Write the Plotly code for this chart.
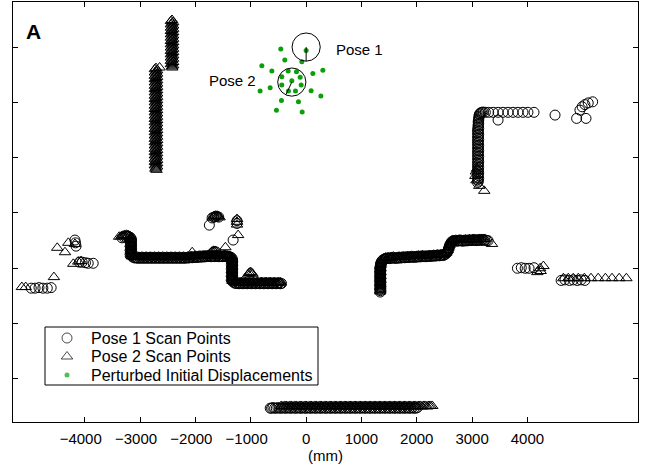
import math
import plotly.graph_objects as go

# ---------------- data (mm) ----------------
# Pose 1 scan points (circles)
p1_bottom = [(-650, -6530), (-625, -6530), (-600, -6520), (-570, -6530), (-540, -6530), (-510, -6520), (-480, -6530),
             (-450, -6530), (-420, -6520), (-390, -6530), (-360, -6530), (-330, -6520), (-300, -6530), (-270, -6530),
             (-240, -6520), (-210, -6530), (-180, -6530), (-150, -6520), (-120, -6530), (-90, -6530), (-60, -6520),
             (-30, -6530), (0, -6530), (30, -6520), (60, -6530), (90, -6530), (120, -6520), (150, -6530),
             (180, -6530), (210, -6520), (240, -6530), (270, -6530), (300, -6520), (330, -6530), (360, -6530),
             (390, -6520), (420, -6530), (450, -6530), (480, -6520), (510, -6530), (540, -6530), (570, -6520),
             (600, -6530), (630, -6530), (660, -6520), (690, -6530), (720, -6530), (750, -6520), (780, -6530),
             (810, -6530), (840, -6520), (870, -6530), (900, -6530), (930, -6520), (960, -6530), (990, -6530),
             (1020, -6520), (1050, -6530), (1080, -6530), (1110, -6520), (1140, -6530), (1170, -6530), (1200, -6520),
             (1230, -6530), (1260, -6530), (1290, -6520), (1320, -6530), (1350, -6530), (1380, -6520), (1410, -6530),
             (1440, -6530), (1470, -6520), (1500, -6530), (1530, -6530), (1560, -6520), (1590, -6530), (1620, -6530),
             (1650, -6520), (1680, -6530), (1710, -6530), (1740, -6520), (1770, -6530), (1800, -6530), (1830, -6520),
             (1860, -6530), (1890, -6530), (1920, -6520), (1950, -6530), (1980, -6530), (2010, -6520)]

p1_left = [(-4970, -4360), (-4900, -4360), (-4830, -4350), (-4760, -4360), (-4680, -4360), (-4610, -4350),
           (-4100, -3890), (-4050, -3890), (-3990, -3900), (-3940, -3910), (-3850, -3910),
           (-4180, -3490), (-4170, -3540), (-4160, -3600)]

p1_mid_left = [(-3330, -3450), (-3300, -3435), (-3270, -3425), (-3240, -3420), (-3210, -3425), (-3180, -3440),
               (-3160, -3470), (-3160, -3500), (-3165, -3530), (-3160, -3560), (-3160, -3590), (-3165, -3620),
               (-3160, -3650), (-3160, -3680), (-3165, -3710), (-3160, -3740), (-3155, -3770), (-3140, -3795),
               (-3110, -3810), (-3085, -3815), (-3060, -3810), (-3035, -3820), (-3010, -3815), (-2985, -3810),
               (-2960, -3820), (-2935, -3815), (-2910, -3810), (-2885, -3820), (-2860, -3815), (-2835, -3810),
               (-2810, -3820), (-2785, -3815), (-2760, -3810), (-2735, -3820), (-2710, -3815), (-2685, -3810),
               (-2660, -3820), (-2635, -3815), (-2610, -3810), (-2585, -3820), (-2560, -3815), (-2535, -3810),
               (-2510, -3820), (-2485, -3815), (-2460, -3810), (-2435, -3820), (-2410, -3815), (-2385, -3810),
               (-2360, -3820), (-2335, -3815), (-2310, -3810), (-2285, -3820), (-2260, -3815), (-2235, -3810),
               (-2210, -3820), (-2185, -3815), (-2160, -3810), (-2135, -3815), (-2110, -3810), (-2085, -3805),
               (-2060, -3810), (-2035, -3805), (-2010, -3800), (-1985, -3805), (-1960, -3800), (-1935, -3795),
               (-1910, -3800), (-1885, -3795), (-1860, -3790), (-1835, -3795), (-1810, -3790), (-1785, -3785),
               (-1760, -3780), (-1735, -3790), (-1710, -3790), (-1685, -3785), (-1660, -3790), (-1635, -3785),
               (-1610, -3780), (-1585, -3790), (-1560, -3790), (-1535, -3785), (-1510, -3790), (-1485, -3785),
               (-1460, -3780), (-1435, -3790), (-1410, -3790), (-1385, -3795), (-1360, -3800), (-1340, -3820),
               (-1330, -3850), (-1330, -3875), (-1335, -3900), (-1330, -3925), (-1330, -3950), (-1335, -3975),
               (-1330, -4000), (-1330, -4025), (-1335, -4050), (-1330, -4075), (-1330, -4100), (-1335, -4125),
               (-1330, -4150), (-1330, -4175), (-1335, -4200), (-1330, -4225), (-1320, -4250),
               (-1290, -4270), (-1265, -4275), (-1240, -4270), (-1215, -4280), (-1190, -4275), (-1165, -4270),
               (-1140, -4280), (-1115, -4275), (-1090, -4270), (-1065, -4280), (-1040, -4275), (-1015, -4270),
               (-990, -4280), (-965, -4275), (-940, -4270), (-915, -4280), (-890, -4275), (-865, -4270),
               (-840, -4280), (-815, -4275), (-790, -4270), (-765, -4280), (-740, -4275), (-715, -4270),
               (-690, -4280), (-665, -4275), (-640, -4270), (-615, -4280), (-590, -4275), (-565, -4270),
               (-540, -4280), (-515, -4275), (-490, -4270), (-465, -4280), (-445, -4275),
               (-1700, -3090), (-1670, -3075), (-1640, -3065), (-1610, -3065), (-1580, -3075), (-1750, -3220),
               (-1250, -3140), (-1250, -3190), (-1320, -3490), (-1690, -3720), (-1660, -3700), (-1630, -3705)]

p1_right_mid = [(1340, -4430), (1340, -4405), (1335, -4380), (1340, -4355), (1340, -4330), (1335, -4305),
                (1340, -4280), (1340, -4255), (1335, -4230), (1340, -4205), (1340, -4180), (1335, -4155),
                (1340, -4130), (1340, -4105), (1335, -4080), (1340, -4055), (1340, -4030), (1335, -4005),
                (1340, -3980), (1340, -3955), (1345, -3930), (1350, -3905), (1360, -3880), (1380, -3855),
                (1405, -3835), (1430, -3825), (1455, -3820),
                (1480, -3820), (1505, -3825), (1530, -3820), (1555, -3815), (1580, -3810), (1605, -3820),
                (1630, -3820), (1655, -3815), (1680, -3810), (1705, -3815), (1730, -3810), (1755, -3805),
                (1780, -3810), (1805, -3805), (1830, -3800), (1855, -3805), (1880, -3800), (1905, -3795),
                (1930, -3800), (1955, -3800), (1980, -3800), (2005, -3795), (2030, -3790), (2055, -3795),
                (2080, -3790), (2105, -3785), (2130, -3790), (2155, -3790), (2180, -3790), (2205, -3785),
                (2230, -3780), (2255, -3785), (2280, -3780), (2305, -3775), (2330, -3780), (2355, -3775),
                (2380, -3770), (2405, -3775), (2430, -3770), (2455, -3765), (2480, -3770), (2505, -3755),
                (2530, -3740), (2545, -3715), (2560, -3690), (2570, -3660), (2580, -3630), (2590, -3600),
                (2600, -3570), (2615, -3545), (2630, -3520), (2655, -3510),
                (2680, -3510), (2705, -3505), (2730, -3510), (2755, -3505), (2780, -3500), (2805, -3505),
                (2830, -3510), (2855, -3505), (2880, -3500), (2905, -3505), (2930, -3500), (2955, -3495),
                (2980, -3500), (3005, -3495), (3030, -3490), (3055, -3495), (3080, -3500), (3105, -3495),
                (3130, -3490), (3155, -3495), (3180, -3490), (3205, -3495), (3230, -3490), (3260, -3495),
                (3290, -3500)]

p1_right = [(3820, -4000), (3890, -3990), (3960, -4000), (4030, -4000), (4120, -3990),
            (4610, -4220), (4680, -4210), (4760, -4220), (4830, -4210), (4900, -4220), (4970, -4210), (5040, -4220)]

p1_top_right = [(3100, -2450), (3115, -2425), (3100, -2400), (3120, -2375), (3100, -2350), (3115, -2325),
                (3100, -2300), (3120, -2275), (3100, -2250), (3115, -2225), (3100, -2200), (3120, -2175),
                (3100, -2150), (3115, -2125), (3100, -2100), (3120, -2075), (3100, -2050), (3115, -2025),
                (3100, -2000), (3120, -1975), (3100, -1950), (3115, -1925), (3100, -1900), (3120, -1875),
                (3100, -1850), (3115, -1825), (3100, -1800), (3120, -1775), (3100, -1750), (3115, -1725),
                (3100, -1700), (3120, -1675), (3100, -1650), (3115, -1625), (3100, -1600), (3120, -1575),
                (3100, -1550), (3115, -1525), (3100, -1500), (3120, -1475), (3105, -1450), (3115, -1425),
                (3110, -1400), (3120, -1375), (3110, -1350), (3120, -1325), (3120, -1300), (3125, -1275),
                (3125, -1250), (3130, -1225), (3140, -1205), (3155, -1190), (3175, -1180), (3200, -1175),
                (3240, -1180), (3300, -1180), (3380, -1180), (3470, -1180), (3560, -1180), (3650, -1180),
                (3740, -1180), (3830, -1180), (3920, -1180), (4010, -1180), (4120, -1180),
                (3470, -1320), (4500, -1230), (4890, -1290), (5060, -1290), (4950, -1140), (4990, -1080),
                (5040, -1040), (5100, -1010), (5180, -990)]

# Pose 2 scan points (triangles)
p2_bottom = [(-450, -6490), (-420, -6500), (-390, -6490), (-360, -6490), (-330, -6500), (-300, -6490),
             (-270, -6490), (-240, -6500), (-210, -6490), (-180, -6490), (-150, -6500), (-120, -6490),
             (-90, -6490), (-60, -6500), (-30, -6490), (0, -6490), (30, -6500), (60, -6490),
             (90, -6490), (120, -6500), (150, -6490), (180, -6490), (210, -6500), (240, -6490),
             (270, -6490), (300, -6500), (330, -6490), (360, -6490), (390, -6500), (420, -6490),
             (450, -6490), (480, -6500), (510, -6490), (540, -6490), (570, -6500), (600, -6490),
             (630, -6490), (660, -6500), (690, -6490), (720, -6490), (750, -6500), (780, -6490),
             (810, -6490), (840, -6500), (870, -6490), (900, -6490), (930, -6500), (960, -6490),
             (990, -6490), (1020, -6500), (1050, -6490), (1080, -6490), (1110, -6500), (1140, -6490),
             (1170, -6490), (1200, -6500), (1230, -6490), (1260, -6490), (1290, -6500), (1320, -6490),
             (1350, -6490), (1380, -6500), (1410, -6490), (1440, -6490), (1470, -6500), (1500, -6490),
             (1530, -6490), (1560, -6500), (1590, -6490), (1620, -6490), (1650, -6500), (1680, -6490),
             (1710, -6490), (1740, -6500), (1770, -6490), (1800, -6490), (1830, -6500), (1860, -6490),
             (1890, -6490), (1920, -6500), (1950, -6490), (1980, -6490), (2010, -6500), (2040, -6490),
             (2070, -6490), (2100, -6500), (2130, -6490), (2160, -6490), (2190, -6500), (2220, -6490),
             (2250, -6490), (2280, -6490)]

p2_left = [(-5140, -4340), (-5070, -4340), (-4560, -4160),
           (-4210, -3920), (-4120, -3880), (-4070, -3870),
           (-4500, -3630), (-4360, -3710), (-4300, -3540), (-4180, -3560)]

p2_lower_wall = [(-2715, -380), (-2735, -400), (-2695, -420), (-2715, -440), (-2735, -460), (-2695, -480),
                 (-2715, -500), (-2735, -520), (-2695, -540), (-2715, -560), (-2735, -580), (-2695, -600),
                 (-2715, -620), (-2735, -640), (-2695, -660), (-2715, -680), (-2735, -700), (-2695, -720),
                 (-2715, -740), (-2735, -760), (-2695, -780), (-2715, -800), (-2735, -820), (-2695, -840),
                 (-2715, -860), (-2735, -880), (-2695, -900), (-2715, -920), (-2735, -940), (-2695, -960),
                 (-2715, -980), (-2735, -1000), (-2695, -1020), (-2715, -1040), (-2735, -1060), (-2695, -1080),
                 (-2715, -1100), (-2735, -1120), (-2695, -1140), (-2715, -1160), (-2735, -1180), (-2695, -1200),
                 (-2715, -1220), (-2735, -1240), (-2695, -1260), (-2715, -1280), (-2735, -1300), (-2695, -1320),
                 (-2715, -1340), (-2735, -1360), (-2695, -1380), (-2715, -1400), (-2735, -1420), (-2695, -1440),
                 (-2715, -1460), (-2735, -1480), (-2695, -1500), (-2715, -1520), (-2735, -1540), (-2695, -1560),
                 (-2715, -1580), (-2735, -1600), (-2695, -1620), (-2715, -1640), (-2735, -1660), (-2695, -1680),
                 (-2715, -1700), (-2735, -1720), (-2695, -1740), (-2715, -1760), (-2735, -1780), (-2695, -1800),
                 (-2715, -1820), (-2735, -1840), (-2695, -1860), (-2715, -1880), (-2735, -1900), (-2695, -1920),
                 (-2715, -1940), (-2735, -1960), (-2695, -1980), (-2715, -2000), (-2735, -2020), (-2695, -2040),
                 (-2715, -2060), (-2735, -2080), (-2695, -2100), (-2715, -2120), (-2735, -2140), (-2695, -2160),
                 (-2715, -2180), (-2725, -2200), (-2705, -2220), (-2650, -370)]

p2_upper_wall = [(-2425, 490), (-2445, 470), (-2405, 450), (-2425, 430), (-2445, 410), (-2405, 390),
                 (-2425, 370), (-2445, 350), (-2405, 330), (-2425, 310), (-2445, 290), (-2405, 270),
                 (-2425, 250), (-2445, 230), (-2405, 210), (-2425, 190), (-2445, 170), (-2405, 150),
                 (-2425, 130), (-2445, 110), (-2405, 90), (-2425, 70), (-2445, 50), (-2405, 30),
                 (-2425, 10), (-2445, -10), (-2405, -30), (-2425, -50), (-2445, -70), (-2405, -90),
                 (-2425, -110), (-2445, -130), (-2405, -150), (-2425, -170), (-2445, -190), (-2405, -210),
                 (-2425, -230), (-2445, -250), (-2405, -270), (-2425, -290), (-2445, -310), (-2405, -330),
                 (-2425, -350), (-2420, -370)]

p2_mid_left = [(-3380, -3430), (-3340, -3420), (-3310, -3410), (-3280, -3400), (-3250, -3395), (-3220, -3400),
               (-3190, -3415), (-3170, -3440), (-3170, -3465), (-3175, -3490), (-3170, -3515), (-3170, -3540),
               (-3175, -3565), (-3170, -3590), (-3170, -3615), (-3175, -3640), (-3170, -3665), (-3170, -3690),
               (-3175, -3715), (-3170, -3740), (-3165, -3765), (-3150, -3785),
               (-3120, -3790), (-3095, -3795), (-3070, -3800), (-3045, -3790), (-3020, -3795), (-2995, -3800),
               (-2970, -3790), (-2945, -3795), (-2920, -3800), (-2895, -3790), (-2870, -3795), (-2845, -3800),
               (-2820, -3790), (-2795, -3795), (-2770, -3800), (-2745, -3790), (-2720, -3795), (-2695, -3800),
               (-2670, -3790), (-2645, -3795), (-2620, -3800), (-2595, -3790), (-2570, -3795), (-2545, -3800),
               (-2520, -3790), (-2495, -3795), (-2470, -3800), (-2445, -3790), (-2420, -3795), (-2395, -3800),
               (-2370, -3790), (-2345, -3795), (-2320, -3800), (-2295, -3790), (-2270, -3795), (-2245, -3800),
               (-2220, -3790), (-2195, -3795), (-2170, -3800), (-2145, -3790), (-2120, -3790), (-2095, -3785),
               (-2070, -3780), (-2045, -3785), (-2020, -3780), (-1995, -3775), (-1970, -3780), (-1945, -3775),
               (-1920, -3770), (-1895, -3775), (-1870, -3770), (-1845, -3765), (-1820, -3770), (-1795, -3765),
               (-1770, -3760), (-1745, -3770), (-1720, -3770), (-1695, -3765), (-1670, -3760), (-1645, -3765),
               (-1620, -3760), (-1595, -3770), (-1570, -3770), (-1545, -3765), (-1520, -3770), (-1495, -3765),
               (-1470, -3760), (-1445, -3770), (-1420, -3770), (-1395, -3775), (-1370, -3780), (-1350, -3800),
               (-1340, -3830), (-1340, -3855), (-1345, -3880), (-1340, -3905), (-1340, -3930), (-1345, -3955),
               (-1340, -3980), (-1340, -4005), (-1345, -4030), (-1340, -4055), (-1340, -4080), (-1345, -4105),
               (-1340, -4130), (-1340, -4155), (-1345, -4180), (-1340, -4205), (-1330, -4230),
               (-1300, -4250), (-1275, -4255), (-1250, -4250), (-1225, -4260), (-1200, -4255), (-1175, -4250),
               (-1150, -4260), (-1125, -4255), (-1100, -4250), (-1075, -4260), (-1050, -4255), (-1025, -4250),
               (-1000, -4260), (-975, -4255), (-950, -4250), (-925, -4260), (-900, -4255), (-875, -4250),
               (-850, -4260), (-825, -4255), (-800, -4250), (-775, -4260), (-750, -4255), (-725, -4250),
               (-700, -4260), (-675, -4255), (-650, -4250), (-625, -4260), (-600, -4255), (-575, -4250),
               (-550, -4260), (-525, -4255), (-500, -4250), (-475, -4260), (-460, -4255),
               (-1050, -4110), (-1030, -4085), (-1010, -4070), (-990, -4080), (-970, -4100),
               (-1690, -3080), (-1665, -3060), (-1640, -3050), (-1610, -3050), (-1585, -3060), (-1565, -3080),
               (-1250, -3110), (-1250, -3160), (-1250, -3210), (-1230, -3400), (-1460, -3620),
               (-2060, -3710), (-1700, -3700), (-1670, -3685), (-1640, -3690)]

p2_right_mid = [(1340, -4420), (1340, -4395), (1345, -4370), (1340, -4345), (1340, -4320), (1345, -4295),
                (1340, -4270), (1340, -4245), (1345, -4220), (1340, -4195), (1340, -4170), (1345, -4145),
                (1340, -4120), (1340, -4095), (1345, -4070), (1340, -4045), (1340, -4020), (1345, -3995),
                (1340, -3970), (1345, -3945), (1350, -3920), (1355, -3895), (1365, -3865), (1385, -3840),
                (1410, -3820), (1440, -3805),
                (1480, -3800), (1505, -3805), (1530, -3800), (1555, -3795), (1580, -3790), (1605, -3800),
                (1630, -3800), (1655, -3795), (1680, -3790), (1705, -3795), (1730, -3790), (1755, -3785),
                (1780, -3790), (1805, -3785), (1830, -3780), (1855, -3785), (1880, -3780), (1905, -3775),
                (1930, -3780), (1955, -3780), (1980, -3780), (2005, -3775), (2030, -3770), (2055, -3775),
                (2080, -3770), (2105, -3765), (2130, -3770), (2155, -3770), (2180, -3770), (2205, -3765),
                (2230, -3760), (2255, -3765), (2280, -3760), (2305, -3755), (2330, -3760), (2355, -3755),
                (2380, -3750), (2405, -3755), (2430, -3750), (2455, -3745), (2480, -3750), (2505, -3735),
                (2530, -3720), (2545, -3695), (2560, -3670), (2570, -3640), (2580, -3610), (2590, -3580),
                (2600, -3550), (2615, -3525), (2630, -3500), (2655, -3490),
                (2680, -3490), (2705, -3485), (2730, -3490), (2755, -3485), (2780, -3480), (2805, -3485),
                (2830, -3490), (2855, -3485), (2880, -3480), (2905, -3485), (2930, -3480), (2955, -3475),
                (2980, -3480), (3005, -3475), (3030, -3470), (3055, -3475), (3080, -3480), (3105, -3475),
                (3130, -3470), (3155, -3475), (3180, -3470), (3205, -3475), (3230, -3470), (3360, -3560)]

p2_right = [(4180, -4070), (4230, -4000), (4290, -3960), (4240, -4050),
            (4650, -4180), (4740, -4180), (4830, -4180), (4920, -4180), (5030, -4180), (5150, -4180),
            (5280, -4180), (5410, -4180), (5530, -4180), (5660, -4180), (5790, -4180)]

p2_top_right = [(3090, -2200), (3070, -2250), (3060, -2330), (3080, -2410), (3130, -2510), (3220, -2600)]

# Perturbed initial displacements (green dots)
pert_x = [-458, -386, -78, -801, -620, -325, -175, 121, 302, -440, -108, -259, -440, -90,
          -832, -651, -320, -193, 90, 266, -446, -139, -537, -72, 0]
pert_y = [-36, -235, -265, -338, -434, -434, -446, -476, -421, -537, -548, -609, -687, -687,
          -796, -736, -796, -796, -790, -886, -964, -989, -1144, -1175, -60]

# Robot poses
pose_x = [0, -259]
pose_y = [0, -633]
pose_heading_deg = [-90, -115]
pose_labels = ["Pose 1", "Pose 2"]
robot_radius = 255

x_ticks = [-4000, -3000, -2000, -1000, 0, 1000, 2000, 3000, 4000]
x_ticktext = ["\u22124000\u2007", "\u22123000\u2007", "\u22122000\u2007", "\u22121000\u2007",
              "0", "1000", "2000", "3000", "4000"]
y_ticks = [0, -1000, -2000, -3000, -4000, -5000, -6000]

legend_names = ["Pose 1 Scan Points", "Pose 2 Scan Points", "Perturbed Initial Displacements"]

# ---------------- figure ----------------
W, H = 645, 468
ML, MR, MT, MB = 13, 7, 2, 46
PW, PH = W - ML - MR, H - MT - MB


def fx(px):  # pixel column -> paper fraction
    return (px - ML) / PW


def fy(py):  # pixel row -> paper fraction
    return (H - MB - py) / PH


p1 = p1_bottom + p1_left + p1_mid_left + p1_right_mid + p1_right + p1_top_right
p2 = p2_bottom + p2_left + p2_lower_wall + p2_upper_wall + p2_mid_left + p2_right_mid + p2_right + p2_top_right

FONT = "Liberation Sans, Arial, Helvetica, sans-serif"
GREEN = "#0aa00a"
circ = dict(symbol="circle-open", size=10, color="black", line=dict(width=1, color="black"))
tri = dict(symbol="triangle-up-open", size=10, color="black", line=dict(width=1, color="black"))

fig = go.Figure()
fig.add_trace(go.Scatter(x=[p[0] for p in p1], y=[p[1] for p in p1], mode="markers",
                         name=legend_names[0], marker=circ, showlegend=False))
fig.add_trace(go.Scatter(x=[p[0] for p in p2], y=[p[1] for p in p2], mode="markers",
                         name=legend_names[1], marker=tri, showlegend=False))
fig.add_trace(go.Scatter(x=pert_x, y=pert_y, mode="markers", name=legend_names[2],
                         marker=dict(symbol="circle", size=5, color=GREEN, line=dict(width=0)),
                         showlegend=False))

# legend key symbols (drawn on an overlay axis in paper fractions)
key_rows = [338, 356.5, 375]
fig.add_trace(go.Scatter(
    x=[fx(67)] * 3, y=[fy(r) for r in key_rows], xaxis="x2", yaxis="y2", mode="markers",
    showlegend=False, hoverinfo="skip",
    marker=dict(symbol=["circle-open", "triangle-up-open", "circle"], size=[10, 10, 5],
                color=["black", "black", GREEN], line=dict(width=[1, 1, 0], color=["black", "black", GREEN]))))

shapes = []
for px_, py_, hd in zip(pose_x, pose_y, pose_heading_deg):
    shapes.append(dict(type="circle", xref="x", yref="y",
                       x0=px_ - robot_radius, x1=px_ + robot_radius,
                       y0=py_ - robot_radius, y1=py_ + robot_radius,
                       line=dict(color="black", width=1), layer="above"))
    shapes.append(dict(type="line", xref="x", yref="y", x0=px_, y0=py_,
                       x1=px_ + robot_radius * math.cos(math.radians(hd)),
                       y1=py_ + robot_radius * math.sin(math.radians(hd)),
                       line=dict(color="black", width=1), layer="above"))
# legend box
shapes.append(dict(type="rect", xref="paper", yref="paper", x0=fx(45), x1=fx(318), y0=fy(385), y1=fy(327),
                   line=dict(color="black", width=1), fillcolor="white", layer="below"))

annotations = [
    dict(text="<b>A</b>", xref="paper", yref="paper", x=fx(24), y=fy(32), xanchor="left", yanchor="middle",
         showarrow=False, font=dict(size=21, color="black", family=FONT)),
    dict(text=pose_labels[0], xref="x", yref="y", x=pose_x[0] + 500, y=pose_y[0] - 50,
         xanchor="left", yanchor="middle", showarrow=False, font=dict(size=15, color="black", family=FONT)),
    dict(text=pose_labels[1], xref="x", yref="y", x=pose_x[1] - 620, y=pose_y[1] + 30,
         xanchor="right", yanchor="middle", showarrow=False, font=dict(size=15, color="black", family=FONT)),
]
for name, r in zip(legend_names, key_rows):
    annotations.append(dict(text=name, xref="paper", yref="paper", x=fx(89), y=fy(r),
                            xanchor="left", yanchor="middle", showarrow=False,
                            font=dict(size=16, color="black", family=FONT)))

fig.update_layout(
    width=W, height=H,
    margin=dict(l=ML, r=MR, t=MT, b=MB),
    paper_bgcolor="white", plot_bgcolor="white",
    font=dict(family=FONT, size=15, color="black"),
    shapes=shapes, annotations=annotations,
    showlegend=False, hovermode=False,
    xaxis2=dict(overlaying="x", range=[0, 1], visible=False, fixedrange=True),
    yaxis2=dict(overlaying="y", range=[0, 1], visible=False, fixedrange=True),
)
fig.layout.xaxis.update(range=[-5300, 6000], tickvals=x_ticks, ticktext=x_ticktext,
                        ticks="inside", ticklen=5, tickcolor="black", showline=True, linecolor="black",
                        linewidth=1, mirror="ticks", showgrid=False, zeroline=False,
                        ticklabelstandoff=3,
                        title=dict(text="(mm)", standoff=0, font=dict(size=15, family=FONT)),
                        tickfont=dict(size=15, family=FONT))
fig.layout.yaxis.update(range=[-6780, 815], tickvals=y_ticks, showticklabels=False,
                        ticks="inside", ticklen=5, tickcolor="black", showline=True, linecolor="black",
                        linewidth=1, mirror="ticks", showgrid=False, zeroline=False)

fig.write_html("out.html", config={"displayModeBar": False},
               post_script="document.body.style.margin='0';")
